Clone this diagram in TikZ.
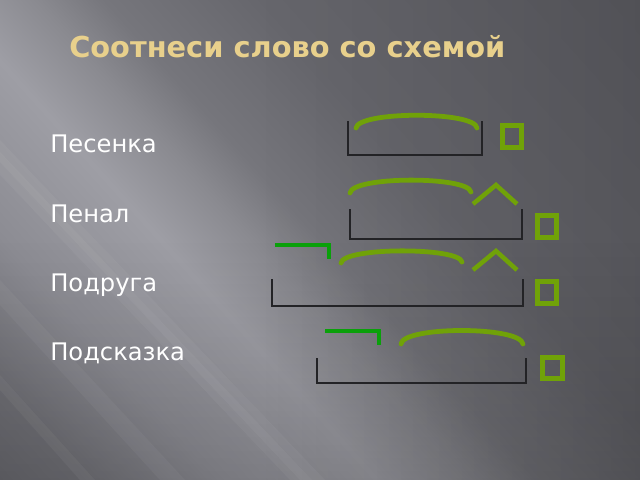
\documentclass[tikz,border=0pt]{standalone}
\usepackage{fontspec}
\setmainfont{DejaVu Sans}
\usetikzlibrary{fadings}
\definecolor{titlebeige}{RGB}{232,208,140}
\definecolor{rootgreen}{RGB}{112,162,8}
\definecolor{prefixgreen}{RGB}{10,160,10}
\definecolor{basedark}{RGB}{35,35,38}
\definecolor{bgdeep}{RGB}{100,100,106}
\definecolor{bglow}{RGB}{112,112,118}
\definecolor{bglight}{RGB}{140,140,147}
\definecolor{bgtop}{RGB}{158,158,165}
\definecolor{bgfall}{RGB}{138,138,144}
\definecolor{bgmid}{RGB}{118,118,124}
\definecolor{bgshade}{RGB}{102,102,108}
\definecolor{bgdark}{RGB}{92,92,98}
\pgfdeclarehorizontalshading{slidebg}{100bp}{%
  color(0bp)=(bgdeep); color(25bp)=(bgdeep); color(30bp)=(bglow);
  color(36bp)=(bglight); color(43bp)=(bgtop); color(47bp)=(bgfall);
  color(50bp)=(bgmid); color(57bp)=(bgshade); color(75bp)=(bgdark);
  color(100bp)=(bgdark)}
\tikzset{
  rootarc/.style={draw=rootgreen, line width=3.4pt, line cap=round},
  suffixcaret/.style={draw=rootgreen, line width=3.2pt},
  prefixmark/.style={draw=prefixgreen, line width=3pt},
  endbox/.style={draw=rootgreen, line width=3.4pt},
  wordbase/.style={draw=basedark, line width=1pt},
  streak/.style={fill=white, opacity=0.04},
  wordtext/.style={text=white, font=\fontsize{17.2}{20}\selectfont, inner sep=0pt, anchor=base west}
}
\begin{document}
\begin{tikzpicture}[x=0.025cm, y=-0.025cm]
  \useasboundingbox (0,0) rectangle (640,480);
  % background
  \begin{scope}
    \clip (0,0) rectangle (640,480);
    \begin{scope}[transform canvas={shift={(320,240)}, rotate=42}]
      \shade [shading=slidebg] (-420,-420) rectangle (420,420);
    \end{scope}
    \fill [black, opacity=0.12, path fading=west] (260,0) rectangle (640,480);
    \fill [black, opacity=0.14, path fading=north] (0,240) rectangle (640,480);
    \fill [streak] (0,140) -- (0,175) -- (290,480) -- (325,480) -- cycle;
    \fill [streak] (0,152) -- (0,162) -- (300,480) -- (312,480) -- cycle;
    \fill [streak] (0,280) -- (0,305) -- (160,480) -- (185,480) -- cycle;
    \fill [streak] (0,375) -- (0,390) -- (80,480) -- (95,480) -- cycle;
  \end{scope}

  \node [text=titlebeige, font=\bfseries\fontsize{20.5}{24}\selectfont, inner sep=0pt, anchor=base west] (title) at (69,58) {Соотнеси слово со схемой};

  \node [wordtext] (pesenka) at (50,152) {Песенка};
  \node [wordtext] (penal) at (50,222) {Пенал};
  \node [wordtext] (podruga) at (50,291) {Подруга};
  \node [wordtext] (podskazka) at (50,360) {Подсказка};

  % Песенка
  \draw [wordbase] (348,121) -- (348,155) -- (482,155) -- (482,121);
  \draw [rootarc] (356,128) .. controls (358,111) and (475,111) .. (477,128);
  \draw [endbox] (502.5,125.5) rectangle (521.5,147.5);

  % Пенал
  \draw [wordbase] (350,209) -- (350,239) -- (522,239) -- (522,209);
  \draw [rootarc] (350,193) .. controls (352,176) and (468,176) .. (471,192);
  \draw [suffixcaret] (473,204) -- (496,185) -- (517,204);
  \draw [endbox] (537.5,215.5) rectangle (556.5,237.5);

  % Подруга
  \draw [wordbase] (272,279) -- (272,306) -- (523,306) -- (523,279);
  \draw [prefixmark] (275,245) -- (329,245) -- (329,259);
  \draw [rootarc] (341,263) .. controls (343,247) and (459,247) .. (462,262);
  \draw [suffixcaret] (473,270) -- (496,251) -- (517,270);
  \draw [endbox] (537.5,281.5) rectangle (556.5,303.5);

  % Подсказка
  \draw [wordbase] (317,358) -- (317,383) -- (526,383) -- (526,358);
  \draw [prefixmark] (325,331) -- (379,331) -- (379,345);
  \draw [rootarc] (401,344) .. controls (403,326) and (520,326) .. (523,344);
  \draw [endbox] (542.5,357.5) rectangle (562.5,378.5);
\end{tikzpicture}
\end{document}
